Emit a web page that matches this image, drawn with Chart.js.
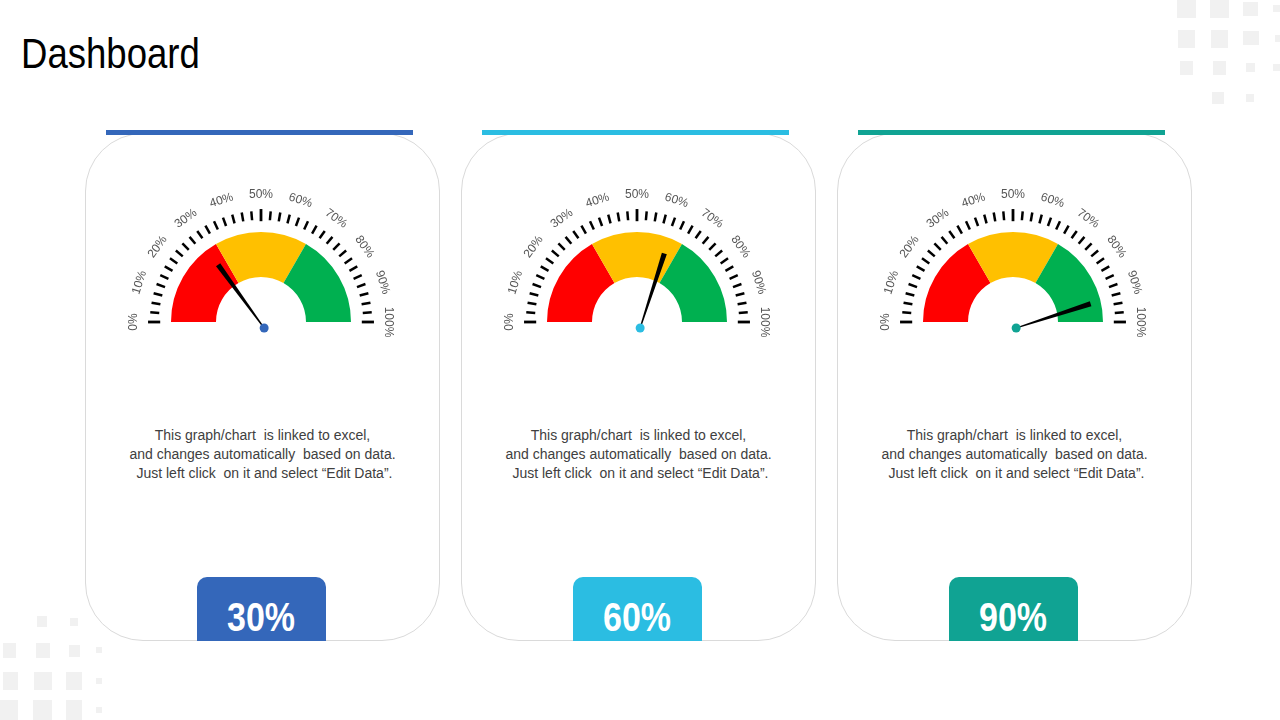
<!DOCTYPE html>
<html>
<head>
<meta charset="utf-8">
<script src="https://cdn.jsdelivr.net/npm/chart.js@4"></script>
<style>
    html, body { margin: 0; padding: 0; background: #fff; }
    body { width: 1280px; height: 720px; position: relative; overflow: hidden; font-family: "Liberation Sans", Arial, sans-serif; }
    .title { position: absolute; left: 21px; top: 28px; font-size: 43px; color: #000; line-height: 50px; transform: scaleX(0.85); transform-origin: left center; }
    .deco { position: absolute; background: #f1f1f1; }
    .card { position: absolute; top: 133px; width: 355px; height: 508px; box-sizing: border-box; border: 1px solid #dadada; border-radius: 58px; background: #fff; }
    .bar { position: absolute; top: 130px; width: 307px; height: 5px; }
    .desc { position: absolute; top: 426px; width: 355px; text-align: center; font-size: 14px; line-height: 19px; color: #404040; }
    .value { position: absolute; top: 577px; width: 129px; height: 64px; border-radius: 10px 10px 0 0; color: #fff; text-align: center; font-weight: bold; font-size: 40px; line-height: 80px; }
    .value span { display: inline-block; transform: scaleX(0.85); }
    .gauge { position: absolute; top: 180px; width: 290px; height: 170px; }
</style>
</head>
<body>
<div class="title">Dashboard</div>
<script>
// Chart data
const gaugeValues = [30, 60, 90];
const valueLabels = ['30%', '60%', '90%'];
const bandNames = ['Low', 'Medium', 'High'];
const bandSizes = [33.33, 33.33, 33.34];
const tickLabels = ['0%', '10%', '20%', '30%', '40%', '50%', '60%', '70%', '80%', '90%', '100%'];

// Styling
const bandColors = ['#ff0000', '#ffc000', '#00b050'];
const cardColors = ['#3467ba', '#2bbde2', '#10a393'];
const cardLefts = [85, 461, 837];
const descLines = [
    'This graph/chart\u00a0 is linked to excel,',
    'and changes automatically\u00a0 based on data.',
    '\u00a0Just left click\u00a0 on it and select \u201cEdit Data\u201d.'
];

// Faint squares in the corners
const decoRects = [
    [1177, 0, 19, 18], [1210, 0, 19, 18], [1243, 2, 15, 14], [1273, 5, 7, 7],
    [1178, 30, 17, 18], [1211, 30, 17, 18], [1243, 31, 16, 14], [1275, 35, 5, 7],
    [1180, 61, 13, 14], [1213, 61, 13, 14], [1246, 63, 9, 9], [1273, 64, 7, 7],
    [1212, 92, 12, 12], [1246, 94, 8, 8],
    [37, 616, 10, 11], [70, 618, 8, 8],
    [3, 643, 13, 15], [36, 643, 14, 15], [69, 645, 11, 12], [96, 647, 6, 6],
    [3, 672, 15, 18], [34, 672, 18, 18], [66, 672, 16, 18], [96, 678, 6, 6],
    [0, 700, 18, 20], [33, 700, 19, 20], [66, 700, 16, 20], [96, 707, 6, 6]
];

decoRects.forEach(([x, y, w, h]) => {
    const d = document.createElement('div');
    d.className = 'deco';
    d.style.left = x + 'px';
    d.style.top = y + 'px';
    d.style.width = w + 'px';
    d.style.height = h + 'px';
    document.body.appendChild(d);
});

// Ticks, labels, needle and pivot drawn around the doughnut arc
const gaugeDecor = {
    id: 'gaugeDecor',
    afterDatasetsDraw(chart, args, opts) {
        const arc = chart.getDatasetMeta(0).data[0];
        const cx = arc.x, cy = arc.y, R = arc.outerRadius;
        const ctx = chart.ctx;
        ctx.save();

        // tick marks every 5 degrees
        ctx.strokeStyle = '#000';
        ctx.lineCap = 'butt';
        const steps = 36;
        for (let i = 0; i <= steps; i++) {
            const a = Math.PI + (i / steps) * Math.PI;
            const major = i % (steps / 2) === 0;
            const r1 = major ? R * 1.12 : R * 1.135;
            const r2 = major ? R * 1.255 : R * 1.235;
            ctx.lineWidth = major ? 2.8 : 2.5;
            ctx.beginPath();
            ctx.moveTo(cx + r1 * Math.cos(a), cy + r1 * Math.sin(a));
            ctx.lineTo(cx + r2 * Math.cos(a), cy + r2 * Math.sin(a));
            ctx.stroke();
        }

        // percentage labels, rotated along the arc
        ctx.fillStyle = '#555';
        ctx.font = '12px "Liberation Sans", Arial, sans-serif';
        ctx.textAlign = 'center';
        ctx.textBaseline = 'middle';
        tickLabels.forEach((lbl, k) => {
            const v = k / (tickLabels.length - 1);
            const a = Math.PI + v * Math.PI;
            const r = R * 1.42;
            ctx.save();
            ctx.translate(cx + r * Math.cos(a), cy + r * Math.sin(a));
            ctx.rotate((v - 0.5) * Math.PI);
            ctx.fillText(lbl, 0, 0);
            ctx.restore();
        });

        // needle: tapered wedge from pivot to tip
        const px = cx + R * 0.035, py = cy + R * 0.067;
        const a = Math.PI + (opts.value / 100) * Math.PI;
        const L = R * 0.87;
        const tx = px + L * Math.cos(a), ty = py + L * Math.sin(a);
        const nx = -Math.sin(a), ny = Math.cos(a);
        ctx.fillStyle = '#000';
        ctx.beginPath();
        ctx.moveTo(px + nx * 0.6, py + ny * 0.6);
        ctx.lineTo(tx + nx * 2.6, ty + ny * 2.6);
        ctx.lineTo(tx - nx * 2.6, ty - ny * 2.6);
        ctx.lineTo(px - nx * 0.6, py - ny * 0.6);
        ctx.closePath();
        ctx.fill();

        // pivot dot
        ctx.fillStyle = opts.color;
        ctx.beginPath();
        ctx.arc(px, py, 4.5, 0, Math.PI * 2);
        ctx.fill();
        ctx.restore();
    }
};

gaugeValues.forEach((value, i) => {
    const left = cardLefts[i];

    const card = document.createElement('div');
    card.className = 'card';
    card.style.left = left + 'px';
    document.body.appendChild(card);

    const bar = document.createElement('div');
    bar.className = 'bar';
    bar.style.left = (left + 21) + 'px';
    bar.style.background = cardColors[i];
    document.body.appendChild(bar);

    const desc = document.createElement('div');
    desc.className = 'desc';
    desc.style.left = left + 'px';
    desc.innerHTML = descLines.join('<br>');
    document.body.appendChild(desc);

    const box = document.createElement('div');
    box.className = 'value';
    box.style.left = (left + 112) + 'px';
    box.style.background = cardColors[i];
    const span = document.createElement('span');
    span.textContent = valueLabels[i];
    box.appendChild(span);
    document.body.appendChild(box);

    const wrap = document.createElement('div');
    wrap.className = 'gauge';
    wrap.style.left = (left + 31) + 'px';
    const canvas = document.createElement('canvas');
    wrap.appendChild(canvas);
    document.body.appendChild(wrap);

    new Chart(canvas, {
        type: 'doughnut',
        data: {
            labels: bandNames,
            datasets: [{
                data: bandSizes,
                backgroundColor: bandColors,
                borderWidth: 0
            }]
        },
        options: {
            responsive: true,
            maintainAspectRatio: false,
            animation: false,
            circumference: 180,
            rotation: -90,
            cutout: '50%',
            layout: { padding: { left: 55, right: 55, top: 52, bottom: 28 } },
            plugins: {
                legend: { display: false },
                tooltip: { enabled: false },
                gaugeDecor: { value: value, color: cardColors[i] }
            }
        },
        plugins: [gaugeDecor]
    });
});
</script>
</body>
</html>
